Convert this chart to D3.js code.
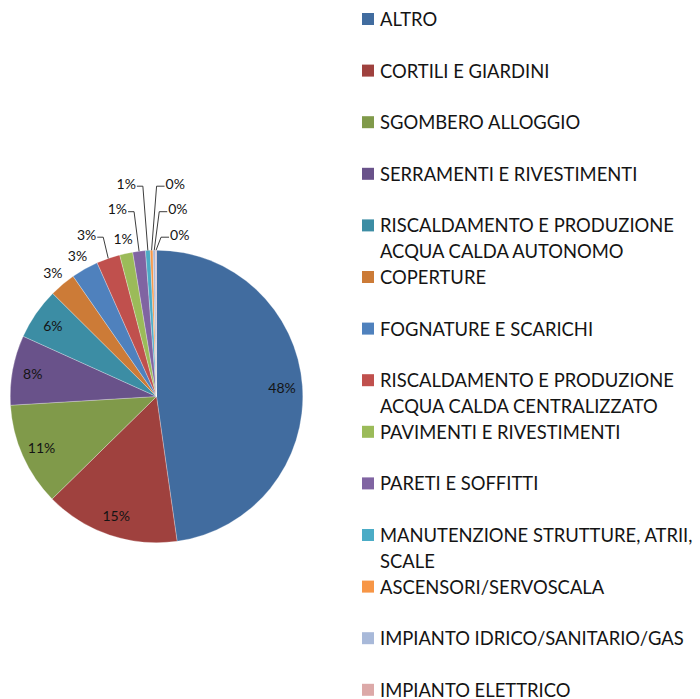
<!DOCTYPE html>
<html>
<head>
<meta charset="utf-8">
<script src="https://cdn.jsdelivr.net/npm/d3@7"></script>
<style>
  body { margin: 0; background: #ffffff; }
  svg { display: block; }
  text { font-family: Lato, "Open Sans", "Liberation Sans", sans-serif; fill: #141414; }
</style>
</head>
<body>
<svg id="chart" width="700" height="699"></svg>
<script>
// Categories of maintenance requests and their share of the total
const categories = [
  "ALTRO",
  "CORTILI E GIARDINI",
  "SGOMBERO ALLOGGIO",
  "SERRAMENTI E RIVESTIMENTI",
  "RISCALDAMENTO E PRODUZIONE ACQUA CALDA AUTONOMO",
  "COPERTURE",
  "FOGNATURE E SCARICHI",
  "RISCALDAMENTO E PRODUZIONE ACQUA CALDA CENTRALIZZATO",
  "PAVIMENTI E RIVESTIMENTI",
  "PARETI E SOFFITTI",
  "MANUTENZIONE STRUTTURE, ATRII, SCALE",
  "ASCENSORI/SERVOSCALA",
  "IMPIANTO IDRICO/SANITARIO/GAS",
  "IMPIANTO ELETTRICO"
];
const values = [47.75, 14.9, 11.4, 7.7, 5.7, 2.9, 3.0, 2.6, 1.45, 1.4, 0.52, 0.29, 0.29, 0.1];
const colors = [
  "#416C9F", "#9F413E", "#809A4A", "#69528A", "#3C8DA4", "#CC7B37", "#4F81BD",
  "#C0504D", "#9BBB59", "#8064A2", "#4BACC6", "#F79646", "#A8B9D9", "#DCA9A8"
];

const cx = 156.5, cy = 396.5, R = 146.3;
const labelSize = 14;
const legendSize = 18.4;

const svg = d3.select("#chart");
const total = d3.sum(values);
const pctText = v => Math.round(v / total * 100) + "%";

const data = categories.map((name, i) => ({ name, value: values[i], color: colors[i] }));
const arcs = d3.pie().sort(null).value(d => d.value)(data);
const arcGen = d3.arc().innerRadius(0).outerRadius(R);

const g = svg.append("g").attr("transform", `translate(${cx},${cy})`);

g.selectAll("path.slice")
  .data(arcs)
  .join("path")
  .attr("class", "slice")
  .attr("d", arcGen)
  .attr("fill", d => d.data.color)
  .attr("stroke", "rgba(255,255,255,0.45)")
  .attr("stroke-width", 0.6);

const polar = (a, r) => [r * Math.sin(a), -r * Math.cos(a)];
const midAngle = d => (d.startAngle + d.endAngle) / 2;
const share = d => (d.endAngle - d.startAngle) / (2 * Math.PI);

// Big slices: label inside the slice
const inside = arcs.filter(d => share(d) >= 0.05);
g.selectAll("text.inlabel")
  .data(inside)
  .join("text")
  .attr("class", "inlabel")
  .attr("text-anchor", "middle")
  .attr("dominant-baseline", "central")
  .style("font-size", labelSize + "px")
  .attr("x", d => polar(midAngle(d), R * 0.86)[0])
  .attr("y", d => polar(midAngle(d), R * 0.86)[1])
  .text(d => pctText(d.data.value));

// Small slices: label outside; very thin slices, or labels that would collide
// with the previous free-standing label, get a leader line instead
const probe = g.append("text").style("font-size", labelSize + "px");
const widthOf = s => { probe.text(s); return probe.node().getComputedTextLength(); };

const rho0 = R + 15;
const naturals = [];
const leaders = [];
let lastNatural = null;
arcs.filter(d => share(d) < 0.05).forEach(d => {
  const m = midAngle(d);
  const t = pctText(d.data.value);
  const [x, y] = polar(m, rho0);
  const item = { d, m, t, w: widthOf(t), x, y };
  const hits = lastNatural &&
    Math.abs(x - lastNatural.x) < (item.w + lastNatural.w) / 2 + 12 &&
    Math.abs(y - lastNatural.y) < labelSize * 0.7 + 4;
  if (hits || share(d) < 0.01) leaders.push(item);
  else { naturals.push(item); lastNatural = item; }
});
probe.remove();

g.selectAll("text.outlabel")
  .data(naturals)
  .join("text")
  .attr("class", "outlabel")
  .attr("text-anchor", "middle")
  .attr("dominant-baseline", "central")
  .style("font-size", labelSize + "px")
  .attr("x", d => d.x)
  .attr("y", d => d.y)
  .text(d => d.t);

// Leader labels are stacked in rows above the pie: first half to the left, rest to the right
const rowY = i => -R - 16 - i * 25.5;
const nLeft = Math.ceil(leaders.length / 2);
leaders.forEach((it, i) => {
  const left = i < nLeft;
  const row = left ? i : leaders.length - 1 - i;
  const y = rowY(row);
  const [ox, oy] = polar(it.m, R);
  let pts, tx, anchor;
  if (left) {
    const kx = ox - 5;
    tx = kx - 7;
    anchor = "end";
    pts = [[tx + 1, y + 3], [kx, y + 3], [ox, oy]];
  } else {
    const kx = ox + 5;
    tx = kx + 9;
    anchor = "start";
    pts = [[tx - 1, y + 3], [kx, y + 3], [ox, oy]];
  }
  g.append("path")
    .attr("d", d3.line()(pts))
    .attr("fill", "none")
    .attr("stroke", "#262626")
    .attr("stroke-width", 0.9);
  g.append("text")
    .attr("text-anchor", anchor)
    .attr("dominant-baseline", "central")
    .style("font-size", labelSize + "px")
    .attr("x", tx)
    .attr("y", y)
    .text(it.t);
});

// Legend
const legX = 362, legTop = 19, legStep = 51.6, lineH = 26, wrapW = 322;
const leg = svg.append("g");
const lprobe = leg.append("text").style("font-size", legendSize + "px");
function wrapLines(s) {
  const words = s.split(" ");
  const lines = [];
  let cur = "";
  words.forEach(w => {
    const trial = cur ? cur + " " + w : w;
    lprobe.text(trial);
    if (cur && lprobe.node().getComputedTextLength() > wrapW) { lines.push(cur); cur = w; }
    else cur = trial;
  });
  if (cur) lines.push(cur);
  return lines;
}
const legendLines = categories.map(wrapLines);
lprobe.remove();

categories.forEach((name, i) => {
  const yc = legTop + i * legStep;
  leg.append("rect")
    .attr("x", legX).attr("y", yc - 6)
    .attr("width", 12).attr("height", 12)
    .attr("fill", colors[i]);
  const t = leg.append("text")
    .style("font-size", legendSize + "px")
    .attr("x", legX + 18)
    .attr("y", yc)
    .attr("dominant-baseline", "central");
  legendLines[i].forEach((ln, k) => {
    t.append("tspan").attr("x", legX + 18).attr("dy", k === 0 ? 0 : lineH).text(ln);
  });
});
</script>
</body>
</html>
